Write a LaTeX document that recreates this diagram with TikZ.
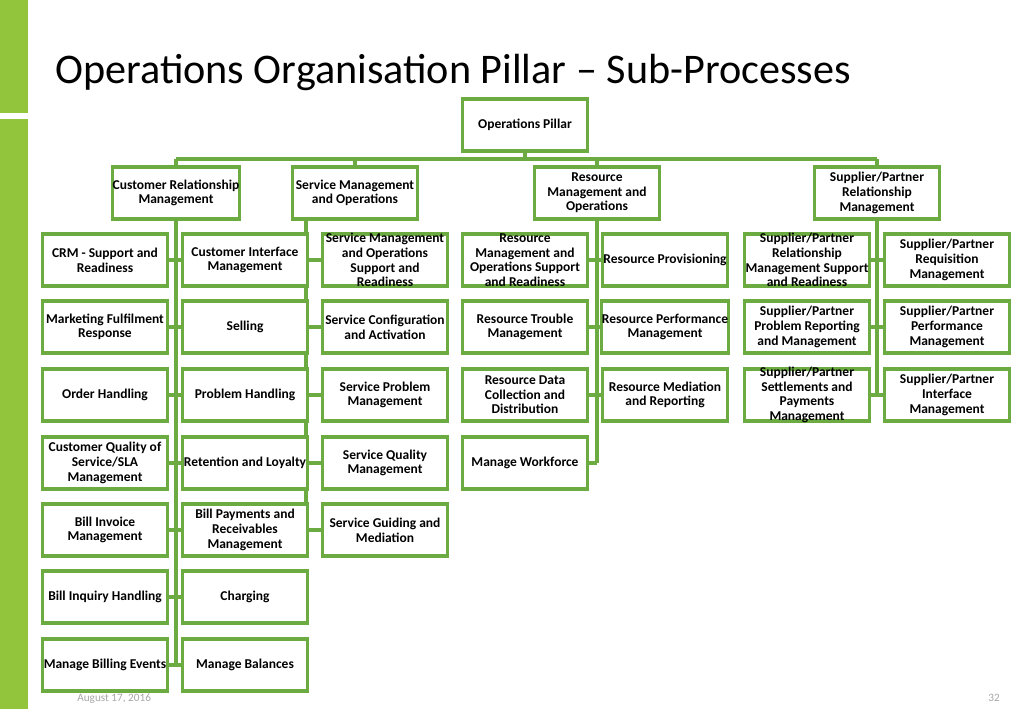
\documentclass[tikz,border=0pt]{standalone}
\usepackage{fontspec}
\setmainfont{Carlito}
\definecolor{pillargreen}{RGB}{108,170,66}
\definecolor{sidegreen}{RGB}{146,196,60}
\tikzset{
  box/.style={draw=pillargreen, line width=2.2pt, fill=white, minimum width=3.125cm,
    minimum height=1.3cm, inner xsep=0pt, inner ysep=-3pt, align=center,
    font=\fontsize{9.6}{10.4}\selectfont\bfseries},
  link/.style={draw=pillargreen, line width=2.2pt}
}
\begin{document}
\begin{tikzpicture}[x=0.025cm,y=-0.025cm]
  \useasboundingbox (0,0) rectangle (1024,709);
  % side bar and texts
  \fill[sidegreen] (0,0) rectangle (28,113);
  \fill[sidegreen] (0,119) rectangle (28,709);
  \node[anchor=base west, inner sep=0pt, font=\fontsize{30}{34}\selectfont] (title) at (55,84)
    {Operations Organisation Pillar -- Sub-Processes};
  \node[anchor=base west, inner sep=0pt, text=gray!70, font=\fontsize{8}{9}\selectfont] (date) at (77,701) {August 17, 2016};
  \node[anchor=base east, inner sep=0pt, text=gray!70, font=\fontsize{8}{9}\selectfont] (page) at (1000,701) {32};

  % spines first, boxes on top
  \draw[link] (525,151) -- (525,159);
  \draw[link] (176,159) -- (877,159);
  \foreach \x in {176,355,597,877} {\draw[link] (\x,159) -- (\x,167);}
  \draw[link] (176,218) -- (176,665);
  \draw[link] (306,218) -- (306,530);
  \draw[link] (597,218) -- (597,463);
  \draw[link] (877,218) -- (877,395);
  \foreach \y in {260,327,395,463,530,597,665} {\draw[link] (168,\y) -- (183,\y);}
  \foreach \y in {260,327,395,463,530} {\draw[link] (306,\y) -- (323,\y);}
  \foreach \y in {260,327,395} {\draw[link] (588,\y) -- (603,\y);}
  \draw[link] (588,463) -- (597,463);
  \foreach \y in {260,327,395} {\draw[link] (870,\y) -- (885,\y);}

  \node[box] (pillar) at (525,125) {Operations Pillar};
  \node[box] (crm) at (176,193) {Customer Relationship\\Management};
  \node[box] (smo) at (355,193) {Service Management\\and Operations};
  \node[box] (rmo) at (597,193) {Resource\\Management and\\Operations};
  \node[box] (sprm) at (877,193) {Supplier/Partner\\Relationship\\Management};

  % customer relationship management
  \node[box] (crmsr) at (105,260) {CRM - Support and\\Readiness};
  \node[box] (mfr) at (105,327) {Marketing Fulfilment\\Response};
  \node[box] (oh) at (105,395) {Order Handling};
  \node[box] (cqos) at (105,463) {Customer Quality of\\Service/SLA\\Management};
  \node[box] (bim) at (105,530) {Bill Invoice\\Management};
  \node[box] (bih) at (105,597) {Bill Inquiry Handling};
  \node[box] (mbe) at (105,665) {Manage Billing Events};
  \node[box] (cim) at (245,260) {Customer Interface\\Management};
  \node[box] (sell) at (245,327) {Selling};
  \node[box] (ph) at (245,395) {Problem Handling};
  \node[box] (rl) at (245,463) {Retention and Loyalty};
  \node[box] (bpr) at (245,530) {Bill Payments and\\Receivables\\Management};
  \node[box] (chg) at (245,597) {Charging};
  \node[box] (mb) at (245,665) {Manage Balances};

  % service management and operations
  \node[box] (smosr) at (385,260) {Service Management\\and Operations\\Support and\\Readiness};
  \node[box] (sca) at (385,327) {Service Configuration\\and Activation};
  \node[box] (spm) at (385,395) {Service Problem\\Management};
  \node[box] (sqm) at (385,463) {Service Quality\\Management};
  \node[box] (sgm) at (385,530) {Service Guiding and\\Mediation};

  % resource management and operations
  \node[box] (rmosr) at (525,260) {Resource\\Management and\\Operations Support\\and Readiness};
  \node[box] (rtm) at (525,327) {Resource Trouble\\Management};
  \node[box] (rdc) at (525,395) {Resource Data\\Collection and\\Distribution};
  \node[box] (mw) at (525,463) {Manage Workforce};
  \node[box] (rp) at (665,260) {Resource Provisioning};
  \node[box] (rpm) at (665,327) {Resource Performance\\Management};
  \node[box] (rmr) at (665,395) {Resource Mediation\\and Reporting};

  % supplier/partner relationship management
  \node[box] (sprsr) at (807,260) {Supplier/Partner\\Relationship\\Management Support\\and Readiness};
  \node[box] (spprm) at (807,327) {Supplier/Partner\\Problem Reporting\\and Management};
  \node[box] (spspm) at (807,395) {Supplier/Partner\\Settlements and\\Payments\\Management};
  \node[box] (sprq) at (947,260) {Supplier/Partner\\Requisition\\Management};
  \node[box] (sppm) at (947,327) {Supplier/Partner\\Performance\\Management};
  \node[box] (spim) at (947,395) {Supplier/Partner\\Interface\\Management};
\end{tikzpicture}
\end{document}
